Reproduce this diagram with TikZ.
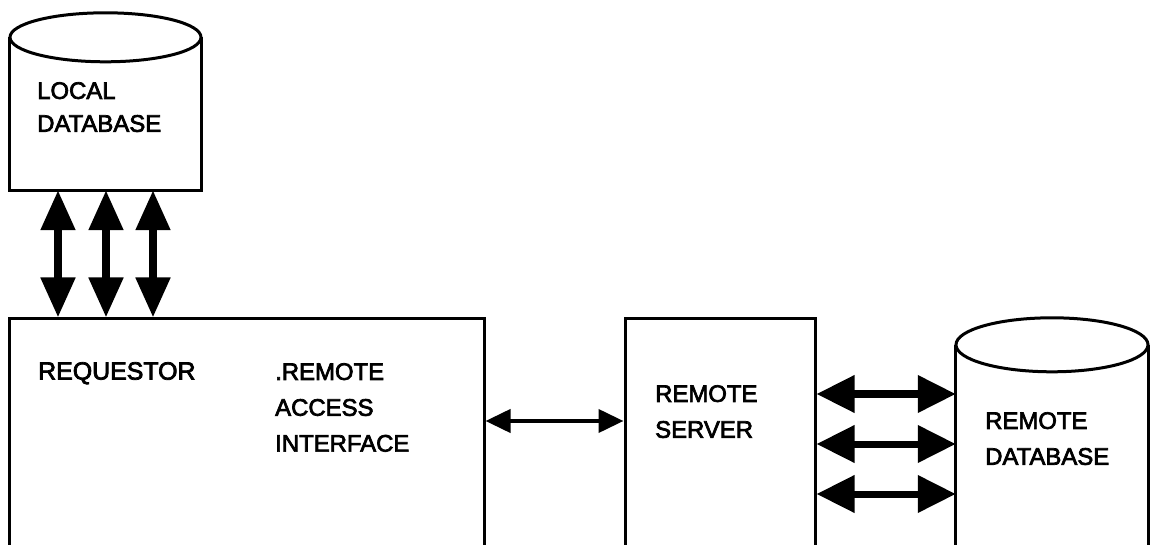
\documentclass[tikz,border=0pt]{standalone}
\usepackage{fontspec}
\setmainfont{Liberation Sans}[FakeBold=3]
\usetikzlibrary{arrows.meta,calc}
\begin{document}
\begin{tikzpicture}[x=1bp,y=-1bp,
  outline/.style={line width=3bp},
  blockbox/.style={draw, rectangle, line width=3bp, inner sep=0pt},
  body/.style={rectangle, inner sep=0pt},
  txt/.style={anchor=north west, inner sep=0pt, align=left,
    font=\fontsize{24}{36}\selectfont},
  vlink/.style={line width=8bp,
    {Triangle[length=40bp,width=33bp]}-{Triangle[length=40bp,width=33bp]}},
  hlink/.style={line width=7bp,
    {Triangle[length=38bp,width=36bp]}-{Triangle[length=38bp,width=36bp]}},
  thinlink/.style={line width=4bp,
    {Triangle[length=25bp,width=23bp]}-{Triangle[length=25bp,width=23bp]}}
]
\useasboundingbox (0,0) rectangle (1150,545);
\fill[white] (0,0) rectangle (1150,545);
\clip (0,0) rectangle (1150,545);

% blocks (they run on past the lower edge)
\node[blockbox, minimum width=474bp, minimum height=301bp] (req) at (247,469.5) {};
\node[blockbox, minimum width=190bp, minimum height=301bp] (server) at (720,469.5) {};

% database cylinders: bodies as nodes, outlines drawn around them
\node[body, minimum width=191bp, minimum height=152.5bp] (localdb) at (105.5,113.75) {};
\node[body, minimum width=192bp, minimum height=275bp] (remotedb) at (1052,482.5) {};

\draw[outline] (localdb.north west) -- (localdb.south west)
  -- (localdb.south east) -- (localdb.north east);
\draw[outline] (localdb.north) ellipse [x radius=95.5bp, y radius=24.5bp];

\draw[outline] (remotedb.south west) -- (remotedb.north west);
\draw[outline] (remotedb.south east) -- (remotedb.north east);
\draw[outline] (remotedb.north) ellipse [x radius=96bp, y radius=27bp];

% texts
\node[txt, font=\fontsize{24}{33}\selectfont] (tlocal) at (37,82) {LOCAL\\DATABASE};
\node[txt, font=\fontsize{25}{36}\selectfont] (treq) at (38,362) {REQUESTOR};
\node[txt] (trai) at (275,363) {.REMOTE\\ACCESS\\INTERFACE};
\node[txt] (tserver) at (655,385) {REMOTE\\SERVER};
\node[txt] (tremote) at (985,412) {REMOTE\\DATABASE};

% rows and columns of the connectors
\coordinate (c1) at (58,0);
\coordinate (c2) at (106,0);
\coordinate (c3) at (153,0);
\coordinate (mid) at (0,421);
\coordinate (r1) at (0,394);
\coordinate (r2) at (0,444);
\coordinate (r3) at (0,494);

% local database <-> requestor
\draw[vlink] (localdb.south -| c1) -- (req.north -| c1);
\draw[vlink] (localdb.south -| c2) -- (req.north -| c2);
\draw[vlink] (localdb.south -| c3) -- (req.north -| c3);

% requestor <-> remote server
\draw[thinlink] (req.east |- mid) -- (server.west |- mid);

% remote server <-> remote database
\draw[hlink] (server.east |- r1) -- (remotedb.west |- r1);
\draw[hlink] (server.east |- r2) -- (remotedb.west |- r2);
\draw[hlink] (server.east |- r3) -- (remotedb.west |- r3);
\end{tikzpicture}
\end{document}
